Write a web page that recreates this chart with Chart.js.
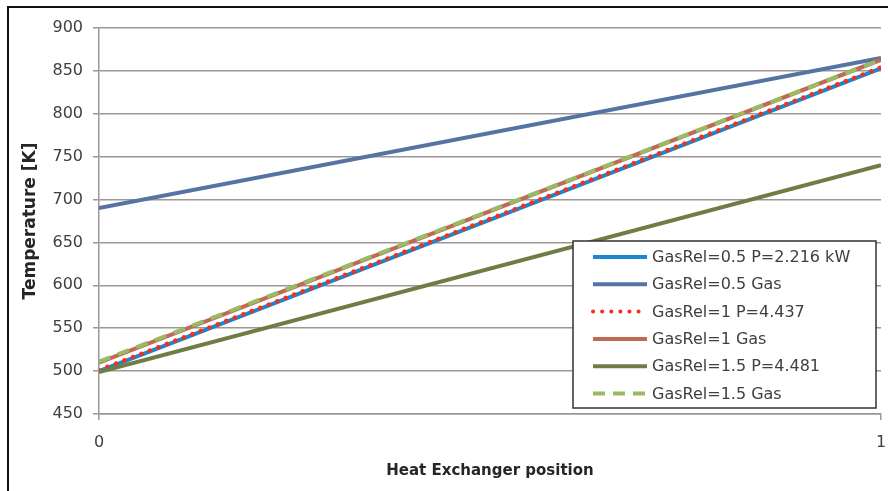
<!DOCTYPE html>
<html>
<head>
<meta charset="utf-8">
<script src="https://cdn.jsdelivr.net/npm/chart.js@4"></script>
<style>
  html, body { margin: 0; padding: 0; background: #fff; }
  #wrap { position: relative; width: 888px; height: 491px; }
</style>
</head>
<body>
<div id="wrap"><canvas id="tempChart" width="888" height="491"></canvas></div>
<script>
// heat exchanger position (0 = inlet, 1 = outlet)
const positions = [0, 1];
const yTicks = [450, 500, 550, 600, 650, 700, 750, 800, 850, 900];

const seriesLabels = [
    'GasRel=0.5 P=2.216 kW',
    'GasRel=0.5 Gas',
    'GasRel=1 P=4.437',
    'GasRel=1 Gas',
    'GasRel=1.5 P=4.481',
    'GasRel=1.5 Gas'
];
const rel05Wall = [500, 853];
const rel05Gas = [690, 865];
const rel1Wall = [501, 854];
const rel1Gas = [510, 863];
const rel15Wall = [499, 740];
const rel15Gas = [511, 863];

const FONT = '"DejaVu Sans", sans-serif';

function toPoints(values) {
    return positions.map((x, i) => ({ x: x, y: values[i] }));
}

const styles = [
    { color: '#1a87cf', dash: [], cap: 'butt' },
    { color: '#5674a3', dash: [], cap: 'butt' },
    { color: '#f2301c', dash: [0.1, 9], cap: 'round' },
    { color: '#bf6a55', dash: [], cap: 'butt' },
    { color: '#6f7c45', dash: [], cap: 'butt' },
    { color: '#98bb63', dash: [12, 8], cap: 'butt' }
];
const seriesValues = [rel05Wall, rel05Gas, rel1Wall, rel1Gas, rel15Wall, rel15Gas];

const datasets = seriesValues.map((vals, i) => ({
    label: seriesLabels[i],
    data: toPoints(vals),
    borderColor: styles[i].color,
    backgroundColor: styles[i].color,
    borderWidth: i === 2 ? 4.5 : 4,
    borderDash: styles[i].dash,
    borderCapStyle: styles[i].cap,
    pointRadius: 0,
    fill: false,
    tension: 0,
    order: seriesValues.length - i
}));

// legend box drawn inside the plot, bottom right
const boxLegend = {
    id: 'boxLegend',
    afterDraw(chart) {
        const ctx = chart.ctx;
        const x0 = 573, y0 = 241, w = 303, h = 167;
        ctx.save();
        ctx.fillStyle = '#fff';
        ctx.fillRect(x0, y0, w, h);
        ctx.strokeStyle = '#333';
        ctx.lineWidth = 1.5;
        ctx.strokeRect(x0, y0, w, h);
        ctx.font = '16px ' + FONT;
        ctx.textBaseline = 'middle';
        chart.data.datasets.forEach((ds, i) => {
            const y = y0 + 16 + i * 27.3;
            ctx.beginPath();
            ctx.strokeStyle = ds.borderColor;
            ctx.lineWidth = 4;
            ctx.lineCap = ds.borderCapStyle;
            ctx.setLineDash(ds.borderDash);
            ctx.moveTo(593, y);
            ctx.lineTo(647, y);
            ctx.stroke();
            ctx.setLineDash([]);
            ctx.fillStyle = '#404040';
            ctx.fillText(ds.label, 652, y + 1);
        });
        // outer frame of the figure (only top and left edges show)
        ctx.strokeStyle = '#111';
        ctx.lineWidth = 2;
        ctx.beginPath();
        ctx.moveTo(8, 492);
        ctx.lineTo(8, 7);
        ctx.lineTo(888, 7);
        ctx.stroke();
        ctx.restore();
    }
};

new Chart(document.getElementById('tempChart').getContext('2d'), {
    type: 'line',
    data: { datasets: datasets },
    options: {
        responsive: false,
        animation: false,
        layout: { padding: { left: 0, right: 7, top: 28, bottom: 0 } },
        plugins: {
            legend: { display: false },
            tooltip: { enabled: false }
        },
        scales: {
            x: {
                type: 'linear',
                min: 0,
                max: 1,
                afterFit: (scale) => {
                    scale.height = 491 - 414;
                    scale.paddingLeft = 0;
                    scale.paddingRight = 0;
                },
                afterBuildTicks: (scale) => { scale.ticks = positions.map(v => ({ value: v })); },
                ticks: {
                    color: '#404040',
                    font: { family: FONT, size: 16 },
                    padding: 13
                },
                grid: { drawOnChartArea: false, drawTicks: true, tickLength: 6, color: '#9e9696', lineWidth: 1.5 },
                border: { color: '#9e9696', width: 1.5 },
                title: {
                    display: true,
                    text: 'Heat Exchanger position',
                    color: '#262626',
                    font: { family: FONT, size: 15, weight: 'bold' },
                    padding: { top: 0, bottom: 11 }
                }
            },
            y: {
                min: 450,
                max: 900,
                afterFit: (scale) => { scale.width = 99; },
                afterBuildTicks: (scale) => { scale.ticks = yTicks.map(v => ({ value: v })); },
                ticks: {
                    color: '#404040',
                    font: { family: FONT, size: 16 },
                    padding: 10
                },
                grid: { color: '#9e9696', lineWidth: 1.5, tickLength: 6 },
                border: { color: '#9e9696', width: 1.5 },
                title: {
                    display: true,
                    text: 'Temperature [K]',
                    color: '#262626',
                    font: { family: FONT, size: 17, weight: 'bold' },
                    padding: { top: 20, bottom: 2 }
                }
            }
        }
    },
    plugins: [boxLegend]
});
</script>
</body>
</html>
